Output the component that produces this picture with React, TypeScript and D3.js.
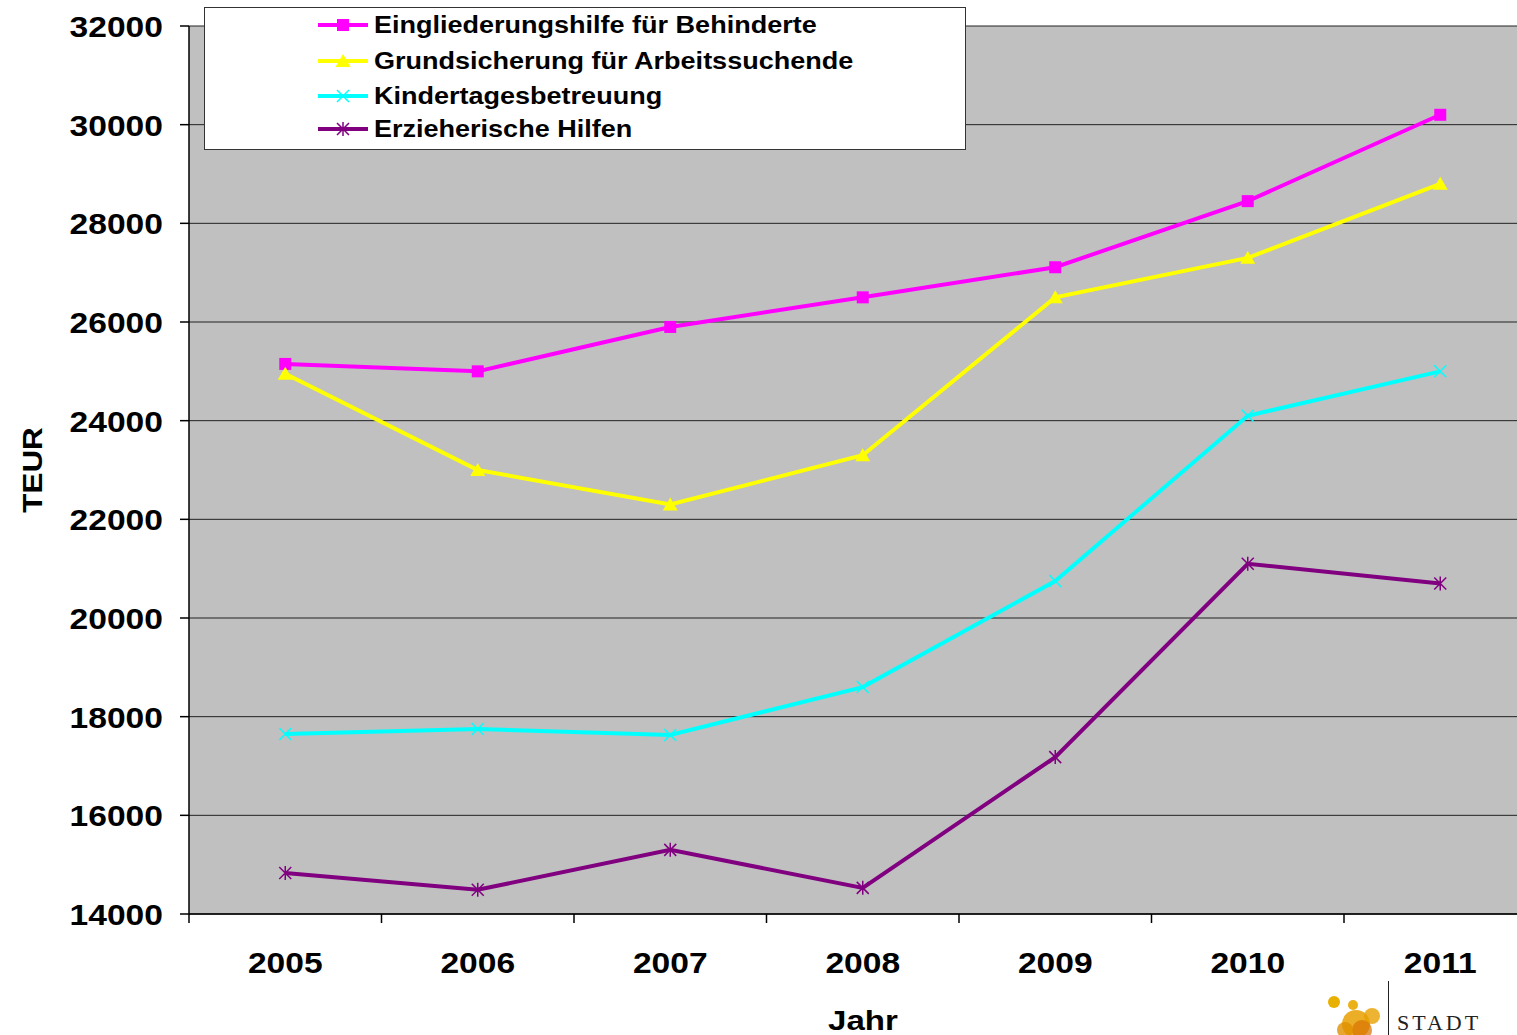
import React from "react";
import * as d3 from "d3";

const years = ["2005", "2006", "2007", "2008", "2009", "2010", "2011"];
const eingliederung = [25150, 25000, 25900, 26500, 27110, 28450, 30200];
const grundsicherung = [24950, 23000, 22300, 23300, 26500, 27300, 28800];
const kinder = [17650, 17750, 17630, 18600, 20750, 24100, 25000];
const erzieherisch = [14830, 14490, 15300, 14530, 17180, 21100, 20700];
const seriesNames = [
  "Eingliederungshilfe für Behinderte",
  "Grundsicherung für Arbeitssuchende",
  "Kindertagesbetreuung",
  "Erzieherische Hilfen",
];
const yTicks = [14000, 16000, 18000, 20000, 22000, 24000, 26000, 28000, 30000, 32000];

const W = 1517;
const H = 1035;
const left = 189;
const top = 26;
const bottom = 914;
const band = 192.5;
const font = "'Liberation Sans', Arial, sans-serif";

type Marker = "square" | "triangle" | "x" | "star";

function MarkerShape({ type, x, y, color }: { type: Marker; x: number; y: number; color: string }) {
  if (type === "square") return <rect x={x - 6} y={y - 6} width={12} height={12} fill={color} />;
  if (type === "triangle")
    return <path d={`M${x},${y - 7}L${x + 7.5},${y + 6}L${x - 7.5},${y + 6}Z`} fill={color} />;
  if (type === "x")
    return (
      <path d={`M${x - 6},${y - 6}L${x + 6},${y + 6}M${x - 6},${y + 6}L${x + 6},${y - 6}`} stroke={color} strokeWidth={1.5} />
    );
  return (
    <path
      d={`M${x - 6},${y - 6}L${x + 6},${y + 6}M${x - 6},${y + 6}L${x + 6},${y - 6}M${x},${y - 7}L${x},${y + 7}`}
      stroke={color}
      strokeWidth={1.5}
    />
  );
}

function SText({
  x,
  y,
  sx,
  size,
  anchor,
  children,
}: {
  x: number;
  y: number;
  sx: number;
  size: number;
  anchor?: string;
  children: React.ReactNode;
}) {
  return (
    <text
      transform={`translate(${x},${y}) scale(${sx},1)`}
      textAnchor={anchor || "start"}
      fontFamily={font}
      fontWeight="bold"
      fontSize={size}
    >
      {children}
    </text>
  );
}

export default function App() {
  const x = d3
    .scaleBand<string>()
    .domain(years)
    .range([left, left + band * years.length]);
  const y = d3.scaleLinear().domain([14000, 32000]).range([bottom, top]);
  const cx = (yr: string) => (x(yr) as number) + x.bandwidth() / 2;

  const series: { name: string; values: number[]; color: string; marker: Marker }[] = [
    { name: seriesNames[0], values: eingliederung, color: "#FF00FF", marker: "square" },
    { name: seriesNames[1], values: grundsicherung, color: "#FFFF00", marker: "triangle" },
    { name: seriesNames[2], values: kinder, color: "#00FFFF", marker: "x" },
    { name: seriesNames[3], values: erzieherisch, color: "#800080", marker: "star" },
  ];

  const line = d3
    .line<number>()
    .x((_, i) => cx(years[i]))
    .y((d) => y(d));

  const plotRight = left + band * years.length;
  const legendRows = [25, 61, 96, 129];

  return (
    <div style={{ position: "absolute", left: 0, top: 0 }}>
      <svg width={W} height={H} style={{ display: "block" }}>
        <rect x={0} y={0} width={W} height={H} fill="#fff" />
        <rect x={left} y={top} width={plotRight - left} height={bottom - top} fill="#C0C0C0" />
        {yTicks.map((t) => (
          <line key={t} x1={left} x2={plotRight} y1={y(t)} y2={y(t)} stroke="#222" strokeWidth={1} />
        ))}
        {/* axes */}
        <line x1={left} x2={left} y1={top} y2={bottom} stroke="#000" strokeWidth={1.5} />
        <line x1={left} x2={plotRight} y1={bottom} y2={bottom} stroke="#000" strokeWidth={1.5} />
        {yTicks.map((t) => (
          <line key={"yt" + t} x1={left - 9} x2={left} y1={y(t)} y2={y(t)} stroke="#000" strokeWidth={1.5} />
        ))}
        {years.map((yr) => (
          <line key={"xt" + yr} x1={x(yr)} x2={x(yr)} y1={bottom} y2={bottom + 9} stroke="#000" strokeWidth={1.5} />
        ))}
        {yTicks.map((t) => (
          <SText key={"yl" + t} x={163} y={y(t) + 11} sx={1.12} size={30} anchor="end">
            {t}
          </SText>
        ))}
        {years.map((yr) => (
          <SText key={"xl" + yr} x={cx(yr)} y={973} sx={1.12} size={30} anchor="middle">
            {yr}
          </SText>
        ))}
        <text
          transform="translate(42,470) rotate(-90) scale(1.12,1)"
          textAnchor="middle"
          fontFamily={font}
          fontWeight="bold"
          fontSize={28}
        >
          TEUR
        </text>
        <SText x={863} y={1030} sx={1.18} size={28} anchor="middle">
          Jahr
        </SText>

        {series.map((s) => (
          <g key={s.name}>
            <path d={line(s.values) || ""} fill="none" stroke={s.color} strokeWidth={4} />
            {s.values.map((v, i) => (
              <MarkerShape key={i} type={s.marker} x={cx(years[i])} y={y(v)} color={s.color} />
            ))}
          </g>
        ))}

        {/* legend */}
        <rect x={204.5} y={7.5} width={761} height={142} fill="#fff" stroke="#333" strokeWidth={1} />
        {series.map((s, i) => (
          <g key={"lg" + s.name}>
            <line x1={318} x2={368} y1={legendRows[i]} y2={legendRows[i]} stroke={s.color} strokeWidth={4} />
            <MarkerShape type={s.marker} x={343} y={legendRows[i]} color={s.color} />
            <SText x={374} y={legendRows[i] + 8} sx={1.175} size={23}>
              {s.name}
            </SText>
          </g>
        ))}

        {/* logo */}
        <g>
          <circle cx={1334} cy={1002} r={6} fill="#E8B000" />
          <circle cx={1353} cy={1005} r={5} fill="#E8A800" opacity={0.9} />
          <circle cx={1356} cy={1024} r={14} fill="#E8A000" opacity={0.85} />
          <circle cx={1372} cy={1016} r={8} fill="#E8A000" opacity={0.8} />
          <circle cx={1362} cy={1030} r={10} fill="#D87000" opacity={0.7} />
          <circle cx={1345} cy={1030} r={8} fill="#E09000" opacity={0.8} />
          <line x1={1388.5} x2={1388.5} y1={981} y2={1035} stroke="#222" strokeWidth={1} />
          <text x={1397} y={1030} fontFamily="'Liberation Serif', 'DejaVu Serif', serif" fontSize={22} letterSpacing={3} fill="#222">
            STADT
          </text>
        </g>
      </svg>
    </div>
  );
}
